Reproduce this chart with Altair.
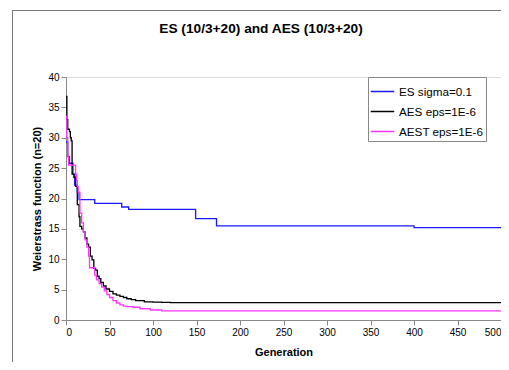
import altair as alt
import pandas as pd

# ---- data ----
es_gen = [0, 2, 4, 8, 10, 13, 15, 33, 64, 72, 149, 173, 400, 500]
es_val = [29.3, 26.9, 25.8, 24.0, 22.2, 21.0, 19.8, 19.2, 18.6, 18.2, 16.7, 15.5, 15.2, 15.2]

aes_gen = [0, 1, 2, 4, 5, 6, 7, 9, 11, 13, 15, 16, 18, 20, 22, 24, 26, 28, 30, 32, 34,
           36, 38, 40, 43, 46, 50, 54, 58, 62, 66, 70, 75, 80, 90, 100, 110, 120, 500]
aes_val = [36.8, 33.0, 31.4, 31.0, 30.0, 29.5, 24.0, 23.5, 22.0, 19.0, 17.0, 15.4, 15.0,
           14.5, 13.5, 12.5, 12.0, 10.5, 9.9, 8.5, 8.2, 7.2, 6.8, 6.2, 5.6, 5.1, 4.7, 4.3,
           4.1, 3.9, 3.7, 3.5, 3.35, 3.2, 3.0, 2.95, 2.9, 2.85, 2.85]

aest_gen = [0, 1, 2, 3, 10, 11, 12, 13, 14, 16, 18, 20, 22, 24, 26, 27, 31, 33, 35, 38,
            41, 44, 47, 50, 54, 58, 62, 66, 70, 77, 85, 97, 110, 500]
aest_val = [33.5, 30.0, 27.0, 25.5, 25.5, 24.0, 23.0, 22.0, 21.0, 17.6, 16.0, 14.5, 13.2,
            12.0, 10.5, 8.6, 8.6, 7.4, 6.6, 6.0, 5.4, 4.8, 4.2, 3.7, 3.2, 2.8, 2.5, 2.3,
            2.2, 2.1, 1.85, 1.65, 1.5, 1.5]

series_names = ["ES sigma=0.1", "AES eps=1E-6", "AEST eps=1E-6"]
series_colors = ["#1a1aff", "#000000", "#ff33ff"]
title_text = "ES (10/3+20) and AES (10/3+20)"

rows = []
for name, gens, vals in [(series_names[0], es_gen, es_val),
                         (series_names[1], aes_gen, aes_val),
                         (series_names[2], aest_gen, aest_val)]:
    for g, v in zip(gens, vals):
        rows.append({"series": name, "gen": g, "val": v})
df = pd.DataFrame(rows)

FONT = "Liberation Sans"

lines = alt.Chart(df).mark_line(interpolate="step-after", strokeWidth=1.3).encode(
    x=alt.X("gen:Q", scale=alt.Scale(domain=[0, 500], nice=False),
            axis=alt.Axis(title="Generation", values=list(range(0, 501, 50)),
                          grid=False, titlePadding=9)),
    y=alt.Y("val:Q", scale=alt.Scale(domain=[0, 40], nice=False),
            axis=alt.Axis(title="Weierstrass function (n=20)", values=list(range(0, 41, 5)),
                          grid=False, titlePadding=5)),
    color=alt.Color("series:N",
                    scale=alt.Scale(domain=series_names, range=series_colors),
                    sort=series_names,
                    legend=alt.Legend(title=None, orient="none", legendX=302, legendY=0,
                                      symbolType="stroke", symbolSize=550,
                                      symbolStrokeWidth=1.5,
                                      labelFont=FONT, labelFontSize=11.7, labelColor="#000",
                                      strokeColor="#888", padding=2, rowPadding=0,
                                      fillColor="white")),
)

title = alt.Chart(pd.DataFrame({"t": [title_text]})).mark_text(
    font=FONT, fontSize=13.7, fontWeight="bold", baseline="bottom", align="center",
    color="#000"
).encode(x=alt.value(195), y=alt.value(-41), text="t:N")

frame_top = alt.Chart(pd.DataFrame({"a": [0]})).mark_rect(fill="#777", strokeWidth=0).encode(
    x=alt.value(-54), x2=alt.value(443), y=alt.value(-67), y2=alt.value(-66))
frame_left = alt.Chart(pd.DataFrame({"a": [0]})).mark_rect(fill="#777", strokeWidth=0).encode(
    x=alt.value(-54), x2=alt.value(-53), y=alt.value(-67), y2=alt.value(285))

chart = alt.layer(frame_top, frame_left, lines, title).properties(
    width=435, height=243,
    autosize=alt.AutoSizeParams(type="none"),
    padding={"left": 58, "top": 69, "right": 0, "bottom": 42},
).configure_view(stroke=None).configure_axis(
    labelFont=FONT, labelFontSize=11, labelColor="#000",
    titleFont=FONT, titleFontSize=12.8, titleFontWeight="bold", titleColor="#000",
    domainColor="#888", tickColor="#888", tickSize=4,
).configure(background="white")

chart.save("out.html", embed_options={"renderer": "svg", "actions": False})
